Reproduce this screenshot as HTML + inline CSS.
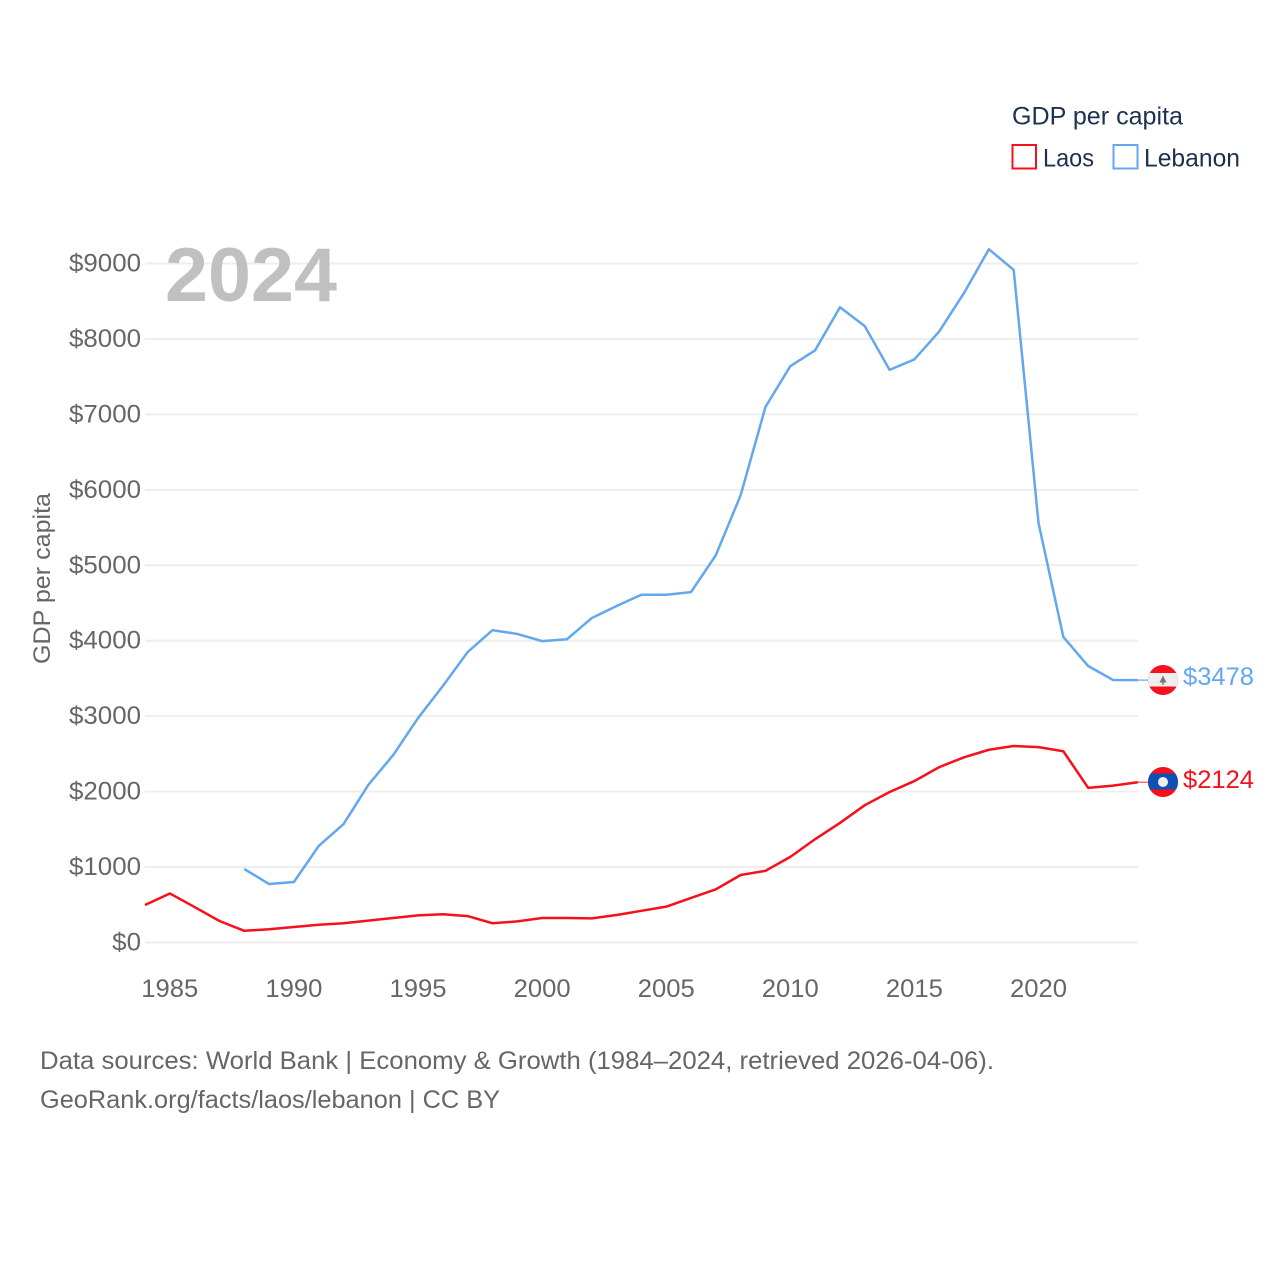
<!DOCTYPE html>
<html lang="en">
<head>
<meta charset="utf-8">
<title>GDP per capita: Laos and Lebanon</title>
<style>
html,body{margin:0;padding:0;background:#fff;width:1280px;height:1280px;overflow:hidden}
svg{display:block}
text{font-family:"Liberation Sans",sans-serif}
</style>
</head>
<body>
<svg id="chart" xmlns="http://www.w3.org/2000/svg" width="1280" height="1280" viewBox="0 0 1280 1280">
  <rect width="1280" height="1280" fill="#fff"/>
  <g id="grid"></g>
  <g id="yticks"></g>
  <g id="xticks"></g>
  <text x="165" y="301" font-size="76" font-weight="700" fill="#c0c0c0" textLength="172" lengthAdjust="spacingAndGlyphs">2024</text>
  <text transform="translate(50,664) rotate(-90)" font-size="24" fill="#666" textLength="171" lengthAdjust="spacingAndGlyphs">GDP per capita</text>
  <g id="series"></g>

  <g>
    <text x="1012" y="124.5" font-size="25" fill="#1d3050" textLength="171" lengthAdjust="spacingAndGlyphs">GDP per capita</text>
    <rect x="1012.5" y="145" width="23.5" height="23.5" fill="#fff" stroke="#f5101c" stroke-width="2"/>
    <text x="1043" y="166.5" font-size="25" fill="#1d3050" textLength="51" lengthAdjust="spacingAndGlyphs">Laos</text>
    <rect x="1113.5" y="145" width="24" height="23.5" fill="#fff" stroke="#63a8ee" stroke-width="2"/>
    <text x="1144" y="166.5" font-size="25" fill="#1d3050" textLength="96" lengthAdjust="spacingAndGlyphs">Lebanon</text>
  </g>

  <defs>
    <clipPath id="flag-clip-lb"><circle cx="1163" cy="680" r="15"/></clipPath>
    <clipPath id="flag-clip-la"><circle cx="1163" cy="782" r="15"/></clipPath>
  </defs>
  <g clip-path="url(#flag-clip-lb)">
    <rect x="1148" y="665" width="30" height="30" fill="#f5101c"/>
    <rect x="1148" y="673" width="30" height="13.5" fill="#eeeeee"/>
    <path d="M1163 675.5l3.5 7h-2.8v2.2h-1.4v-2.2h-2.8z" fill="#777"/>
  </g>
  <g clip-path="url(#flag-clip-la)">
    <rect x="1148" y="767" width="30" height="30" fill="#f5101c"/>
    <rect x="1148" y="773.5" width="30" height="16" fill="#0e50b4"/>
    <circle cx="1163" cy="782" r="5" fill="#eeeeee"/>
  </g>
  <text x="1183" y="685" font-size="25" fill="#63a8ee" textLength="71" lengthAdjust="spacingAndGlyphs">$3478</text>
  <text x="1183" y="788" font-size="25" fill="#f5101c" textLength="71" lengthAdjust="spacingAndGlyphs">$2124</text>

  <text x="40" y="1069" font-size="25" fill="#666" textLength="954" lengthAdjust="spacingAndGlyphs">Data sources: World Bank | Economy &amp; Growth (1984–2024, retrieved 2026-04-06).</text>
  <text x="40" y="1108" font-size="25" fill="#666" textLength="460" lengthAdjust="spacingAndGlyphs">GeoRank.org/facts/laos/lebanon | CC BY</text>
</svg>
<script>
const laosYears = [1984,1985,1986,1987,1988,1989,1990,1991,1992,1993,1994,1995,1996,1997,1998,1999,2000,2001,2002,2003,2004,2005,2006,2007,2008,2009,2010,2011,2012,2013,2014,2015,2016,2017,2018,2019,2020,2021,2022,2023,2024];
const laosValues = [497,650,470,285,155,175,205,235,255,290,325,360,375,350,255,280,325,325,320,365,420,475,590,705,895,950,1135,1370,1585,1820,1995,2140,2325,2455,2555,2605,2590,2535,2050,2080,2124];
const lebanonYears = [1988,1989,1990,1991,1992,1993,1994,1995,1996,1997,1998,1999,2000,2001,2002,2003,2004,2005,2006,2007,2008,2009,2010,2011,2012,2013,2014,2015,2016,2017,2018,2019,2020,2021,2022,2023,2024];
const lebanonValues = [974,775,802,1280,1570,2090,2485,2975,3400,3850,4140,4090,3995,4020,4300,4460,4610,4610,4645,5135,5930,7100,7640,7850,8420,8170,7590,7730,8100,8610,9190,8915,5560,4050,3665,3480,3478];
const yTickValues = [0,1000,2000,3000,4000,5000,6000,7000,8000,9000];
const xTickValues = [1985,1990,1995,2000,2005,2010,2015,2020];

const NS = 'http://www.w3.org/2000/svg';
const xScale = year => 145 + (year - 1984) * 24.82;
const yScale = value => 942.5 - value * 0.07544;

function make(tag, attrs, parent, text) {
  const el = document.createElementNS(NS, tag);
  for (const key in attrs) el.setAttribute(key, attrs[key]);
  if (text !== undefined) el.textContent = text;
  parent.appendChild(el);
  return el;
}

const grid = document.getElementById('grid');
const yticks = document.getElementById('yticks');
const xticks = document.getElementById('xticks');
const series = document.getElementById('series');

yTickValues.forEach(v => {
  const line = make('line', {x1: 145, x2: 1138, y1: yScale(v), y2: yScale(v), stroke: '#eeeeee', 'stroke-width': 2}, grid);
  
  
  const label = '$' + v;
  const tick = make('text', {x: 141, y: yScale(v) + 8, 'text-anchor': 'end', 'font-size': 25, fill: '#666', textLength: 14.4 * label.length, lengthAdjust: 'spacingAndGlyphs'}, yticks, label);
  
  
});

xTickValues.forEach(y => {
  const tick = make('text', {x: xScale(y), y: 997, 'text-anchor': 'middle', 'font-size': 25, fill: '#666', textLength: 57, lengthAdjust: 'spacingAndGlyphs'}, xticks, String(y));
  
  
});

function pointsFor(years, values) {
  return years.map((y, i) => xScale(y).toFixed(2) + ',' + yScale(values[i]).toFixed(2)).join(' ');
}

function lastPoint(years, values) {
  const i = years.length - 1;
  return [xScale(years[i]), yScale(values[i])];
}

const lebanonLine = make('polyline', {points: pointsFor(lebanonYears, lebanonValues), fill: 'none', stroke: '#63a8ee', 'stroke-width': 2.5, 'stroke-linejoin': 'round'}, series);



const laosLine = make('polyline', {points: pointsFor(laosYears, laosValues), fill: 'none', stroke: '#f5101c', 'stroke-width': 2.5, 'stroke-linejoin': 'round'}, series);



const lebanonEnd = lastPoint(lebanonYears, lebanonValues);
const lebanonConnector = make('line', {x1: lebanonEnd[0], y1: lebanonEnd[1], x2: 1148, y2: lebanonEnd[1], stroke: '#63a8ee', 'stroke-width': 1.5, opacity: 0.8}, series);



const laosEnd = lastPoint(laosYears, laosValues);
const laosConnector = make('line', {x1: laosEnd[0], y1: laosEnd[1], x2: 1148, y2: laosEnd[1], stroke: '#f5101c', 'stroke-width': 1.5, opacity: 0.6}, series);


</script>
</body>
</html>
